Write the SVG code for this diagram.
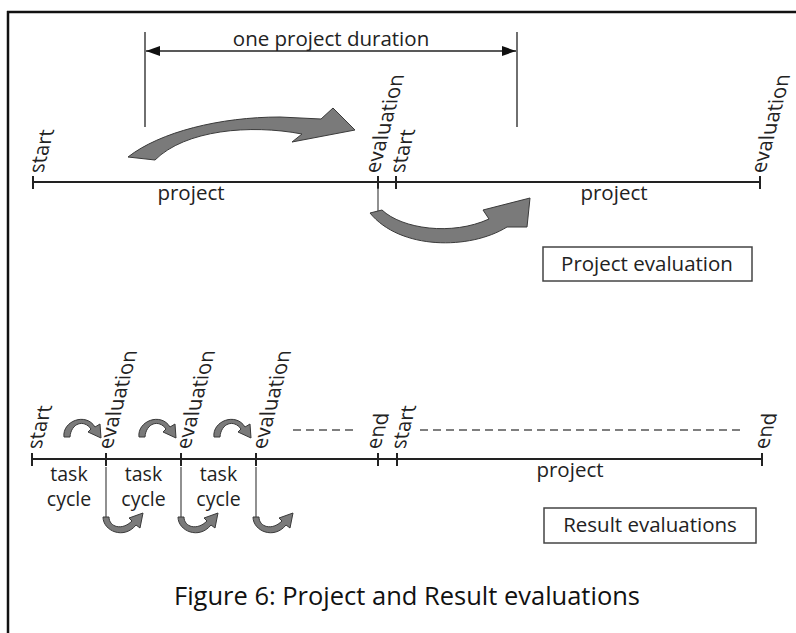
<svg xmlns="http://www.w3.org/2000/svg" width="796" height="633" viewBox="0 0 796 633">
  <style>
    .frame { stroke: #111; stroke-width: 2.5; fill: none; }
    .axis { stroke: #222; stroke-width: 2; fill: none; }
    .tick { stroke: #222; stroke-width: 2; }
    .thin { stroke: #555; stroke-width: 1.3; fill: none; }
    .dash { stroke: #555; stroke-width: 1.5; stroke-dasharray: 8 5; fill: none; }
    .dim { stroke: #222; stroke-width: 1.3; fill: none; }
    .flow { fill: #7a7a7a; stroke: #3a3a3a; stroke-width: 1; stroke-linejoin: round; }
    .box { fill: #fff; stroke: #444; stroke-width: 1.5; }
    .lbl { font-family: "Open Sans", "DejaVu Sans", sans-serif; font-size: 20.5px; fill: #222; }
    .sm { font-size: 19.5px; }
    .rot { font-family: "Open Sans", "DejaVu Sans", sans-serif; font-size: 21px; fill: #222; }
    .mid { text-anchor: middle; }
    .cap { font-family: "Open Sans", "DejaVu Sans", sans-serif; font-size: 26px; fill: #111; text-anchor: middle; }
  </style>
  <defs>
    <marker id="dimHead" viewBox="0 0 14 10" refX="14" refY="5" markerWidth="14" markerHeight="10" markerUnits="userSpaceOnUse" orient="auto-start-reverse">
      <path d="M0,0 L14,5 L0,10 Z" fill="#111"/>
    </marker>
    <!-- small clockwise arrow arching over the line -->
    <path id="hopOver" d="M0,0 C-2,-16 22,-25 31,-10 L36,-13 L37,1 L24,-5 L27,-8 C20,-18 7,-14 6,0 Z"/>
    <!-- small arrow hanging below the line -->
    <path id="hopUnder" d="M-3,0 C-3,14 18,23 30,8 L34,11 L37,-4 L23,1 L26,4 C16,14 3,10 3,0 Z"/>
  </defs>

  <!-- page frame -->
  <g id="frame">
    <line class="frame" x1="7" y1="12" x2="796" y2="12"/>
    <line class="frame" x1="8" y1="11" x2="8" y2="633"/>
  </g>

  <!-- ===== Project evaluation timeline ===== -->
  <g id="project-timeline">
    <line class="axis" x1="33" y1="182" x2="760" y2="182"/>
    <line class="tick" x1="33" y1="176" x2="33" y2="189"/>
    <line class="tick" x1="378" y1="176" x2="378" y2="189"/>
    <line class="tick" x1="396" y1="176" x2="396" y2="189"/>
    <line class="tick" x1="760" y1="176" x2="760" y2="189"/>
  </g>

  <g id="project-labels">
    <text class="rot" transform="matrix(0.25,-0.968,1,0,43,173)">start</text>
    <text class="rot" transform="matrix(0.25,-0.968,1,0,379,173)">evaluation</text>
    <text class="rot" transform="matrix(0.25,-0.968,1,0,404,173)">start</text>
    <text class="rot" transform="matrix(0.25,-0.968,1,0,765,173)">evaluation</text>
    <text class="lbl mid" x="191" y="200">project</text>
    <text class="lbl mid" x="614" y="200">project</text>
  </g>

  <g id="duration">
    <line class="dim" x1="145" y1="32" x2="145" y2="127"/>
    <line class="dim" x1="517" y1="32" x2="517" y2="127"/>
    <line class="dim" x1="146" y1="51" x2="516" y2="51" marker-start="url(#dimHead)" marker-end="url(#dimHead)"/>
    <text class="lbl mid" x="331" y="46">one project duration</text>
  </g>

  <g id="connectors">
    <!-- project sweep across the first period -->
    <path class="flow" d="M128,157 C160,132 220,117 280,117 L321,119 L333,108 L355,130 L292,142 L302,134 C250,124 185,130 155,160 Z"/>
    <!-- evaluation feeding into the next project -->
    <line class="thin" x1="378" y1="188" x2="378" y2="212"/>
    <path class="flow" d="M382,210 C402,229 452,236 489,219 L483,210 L530,198 L527,227 L507,227 C470,250 400,250 370,213 Z"/>

    <!-- result evaluation cycles -->
    <use class="flow" href="#hopOver" x="64" y="437"/>
    <use class="flow" href="#hopOver" x="139" y="437"/>
    <use class="flow" href="#hopOver" x="214" y="437"/>

    <line class="thin" x1="106" y1="467" x2="106" y2="518"/>
    <line class="thin" x1="181" y1="467" x2="181" y2="518"/>
    <line class="thin" x1="256" y1="467" x2="256" y2="518"/>
    <use class="flow" href="#hopUnder" x="106" y="517"/>
    <use class="flow" href="#hopUnder" x="181" y="517"/>
    <use class="flow" href="#hopUnder" x="256" y="517"/>

    <line class="dash" x1="293" y1="430" x2="358" y2="430"/>
    <line class="dash" x1="420" y1="430" x2="743" y2="430"/>
  </g>

  <g id="project-evaluation-box">
    <rect class="box" x="543" y="247" width="209" height="34"/>
    <text class="lbl mid" x="647" y="271">Project evaluation</text>
  </g>

  <!-- ===== Result evaluations timeline ===== -->
  <g id="result-timeline">
    <line class="axis" x1="32" y1="459" x2="762" y2="459"/>
    <line class="tick" x1="32" y1="453" x2="32" y2="466"/>
    <line class="tick" x1="106" y1="453" x2="106" y2="466"/>
    <line class="tick" x1="181" y1="453" x2="181" y2="466"/>
    <line class="tick" x1="256" y1="453" x2="256" y2="466"/>
    <line class="tick" x1="378" y1="453" x2="378" y2="466"/>
    <line class="tick" x1="397" y1="453" x2="397" y2="466"/>
    <line class="tick" x1="762" y1="453" x2="762" y2="466"/>
  </g>

  <g id="result-labels">
    <text class="rot" transform="matrix(0.25,-0.968,1,0,41,449)">start</text>
    <text class="rot" transform="matrix(0.25,-0.968,1,0,112,449)">evaluation</text>
    <text class="rot" transform="matrix(0.25,-0.968,1,0,190,449)">evaluation</text>
    <text class="rot" transform="matrix(0.25,-0.968,1,0,266,449)">evaluation</text>
    <text class="rot" transform="matrix(0.25,-0.968,1,0,380,449)">end</text>
    <text class="rot" transform="matrix(0.25,-0.968,1,0,405,449)">start</text>
    <text class="rot" transform="matrix(0.25,-0.968,1,0,768,449)">end</text>

    <text class="lbl sm mid" x="69" y="481">task</text>
    <text class="lbl sm mid" x="69" y="506">cycle</text>
    <text class="lbl sm mid" x="143.5" y="481">task</text>
    <text class="lbl sm mid" x="143.5" y="506">cycle</text>
    <text class="lbl sm mid" x="218.5" y="481">task</text>
    <text class="lbl sm mid" x="218.5" y="506">cycle</text>
    <text class="lbl mid" x="570" y="477">project</text>
  </g>

  <g id="result-evaluations-box">
    <rect class="box" x="544" y="508" width="212" height="35"/>
    <text class="lbl mid" x="650" y="532">Result evaluations</text>
  </g>

  <g id="caption">
    <text class="cap" x="407" y="605" textLength="466" lengthAdjust="spacingAndGlyphs">Figure 6: Project and Result evaluations</text>
  </g>
</svg>
